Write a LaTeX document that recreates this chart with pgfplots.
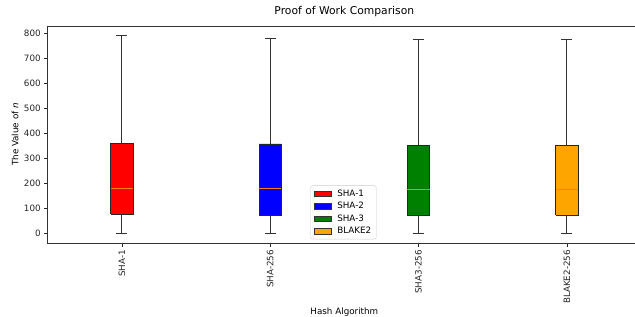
\documentclass[border=0pt]{standalone}
\usepackage{fontspec}
\setmainfont{DejaVu Sans}
\usepackage{pgfplots}
\pgfplotsset{compat=1.18}

\definecolor{medc}{HTML}{FF7F0E}
\definecolor{mgreen}{HTML}{008000}
\definecolor{morange}{HTML}{FFA500}

\begin{document}
\begin{tikzpicture}
\begin{axis}[
  scale only axis, width=593.3bp, height=217bp,
  xmin=0.5, xmax=4.5, ymin=-39.5, ymax=829.5,
  xtick={1,2,3,4}, xticklabels={SHA-1,SHA-256,SHA3-256,BLAKE2-256},
  ytick={0,100,...,800},
  tick align=outside, tick pos=left, major tick length=3.5bp,
  tick style={black!85, line width=0.6pt},
  axis line style={line width=0.7pt, black!80},
  font=\fontsize{8.8}{10.5}\selectfont,
  /pgf/number format/assume math mode=true,
  yticklabel style={font=\fontsize{8.8}{10.5}\selectfont, text=black!85},
  xticklabel style={rotate=90, anchor=east, font=\fontsize{8.8}{10.5}\selectfont, text=black!85},
  title={Proof of Work Comparison},
  title style={font=\fontsize{10.8}{13}\selectfont, at={(axis description cs:0.5,1.0276)}, anchor=base},
  xlabel={Hash Algorithm},
  xlabel style={font=\fontsize{8.8}{10.5}\selectfont, at={(axis description cs:0.5,-0.3295)}, anchor=base},
  ylabel={The Value of \textit{n}},
  ylabel style={font=\fontsize{8.8}{10.5}\selectfont, at={(axis description cs:-0.0551,0.5)}, anchor=center},
  legend style={at={(0.443,0.017)}, anchor=south west, draw=black!20, rounded corners=2bp,
    font=\fontsize{8.8}{10.5}\selectfont, inner xsep=3bp, inner ysep=2bp,
    column sep=4bp, row sep=0.5bp},
  legend cell align=left,
  wh/.style={forget plot, black!80, line width=0.8pt, mark=none},
  bx/.style={forget plot, draw=black!85, line width=0.8pt, mark=none, line join=miter},
  md/.style={forget plot, medc, line width=0.7pt, mark=none},
]
% SHA-1: whiskers 0 / 790, quartiles 76 / 360, median 180
\addplot[wh] coordinates {(1,0) (1,76)};
\addplot[wh] coordinates {(1,360) (1,790)};
\addplot[wh] coordinates {(0.9625,0) (1.0375,0)};
\addplot[wh] coordinates {(0.9625,790) (1.0375,790)};
\addplot[bx, fill=red] coordinates {(0.925,76) (1.075,76) (1.075,360) (0.925,360) (0.925,76)};
\addplot[md] coordinates {(0.925,180) (1.075,180)};
% SHA-256: 0 / 780, 73 / 357, median 180
\addplot[wh] coordinates {(2,0) (2,73)};
\addplot[wh] coordinates {(2,357) (2,780)};
\addplot[wh] coordinates {(1.9625,0) (2.0375,0)};
\addplot[wh] coordinates {(1.9625,780) (2.0375,780)};
\addplot[bx, fill=blue] coordinates {(1.925,73) (2.075,73) (2.075,357) (1.925,357) (1.925,73)};
\addplot[md] coordinates {(1.925,180) (2.075,180)};
% SHA3-256: 0 / 776, 73 / 352, median 176
\addplot[wh] coordinates {(3,0) (3,73)};
\addplot[wh] coordinates {(3,352) (3,776)};
\addplot[wh] coordinates {(2.9625,0) (3.0375,0)};
\addplot[wh] coordinates {(2.9625,776) (3.0375,776)};
\addplot[bx, fill=mgreen] coordinates {(2.925,73) (3.075,73) (3.075,352) (2.925,352) (2.925,73)};
\addplot[md] coordinates {(2.925,176) (3.075,176)};
% BLAKE2-256: 0 / 776, 73 / 352, median 176
\addplot[wh] coordinates {(4,0) (4,73)};
\addplot[wh] coordinates {(4,352) (4,776)};
\addplot[wh] coordinates {(3.9625,0) (4.0375,0)};
\addplot[wh] coordinates {(3.9625,776) (4.0375,776)};
\addplot[bx, fill=morange] coordinates {(3.925,73) (4.075,73) (4.075,352) (3.925,352) (3.925,73)};
\addplot[md] coordinates {(3.925,176) (4.075,176)};
\addlegendimage{area legend, sharp corners, fill=red, draw=black!80, line width=0.6pt}
\addlegendentry{SHA-1}
\addlegendimage{area legend, sharp corners, fill=blue, draw=black!80, line width=0.6pt}
\addlegendentry{SHA-2}
\addlegendimage{area legend, sharp corners, fill=mgreen, draw=black!80, line width=0.6pt}
\addlegendentry{SHA-3}
\addlegendimage{area legend, sharp corners, fill=morange, draw=black!80, line width=0.6pt}
\addlegendentry{BLAKE2}
\end{axis}
\pgfresetboundingbox
\path (-47.7bp,-74bp) rectangle (587.3bp,243bp);
\end{tikzpicture}
\end{document}
